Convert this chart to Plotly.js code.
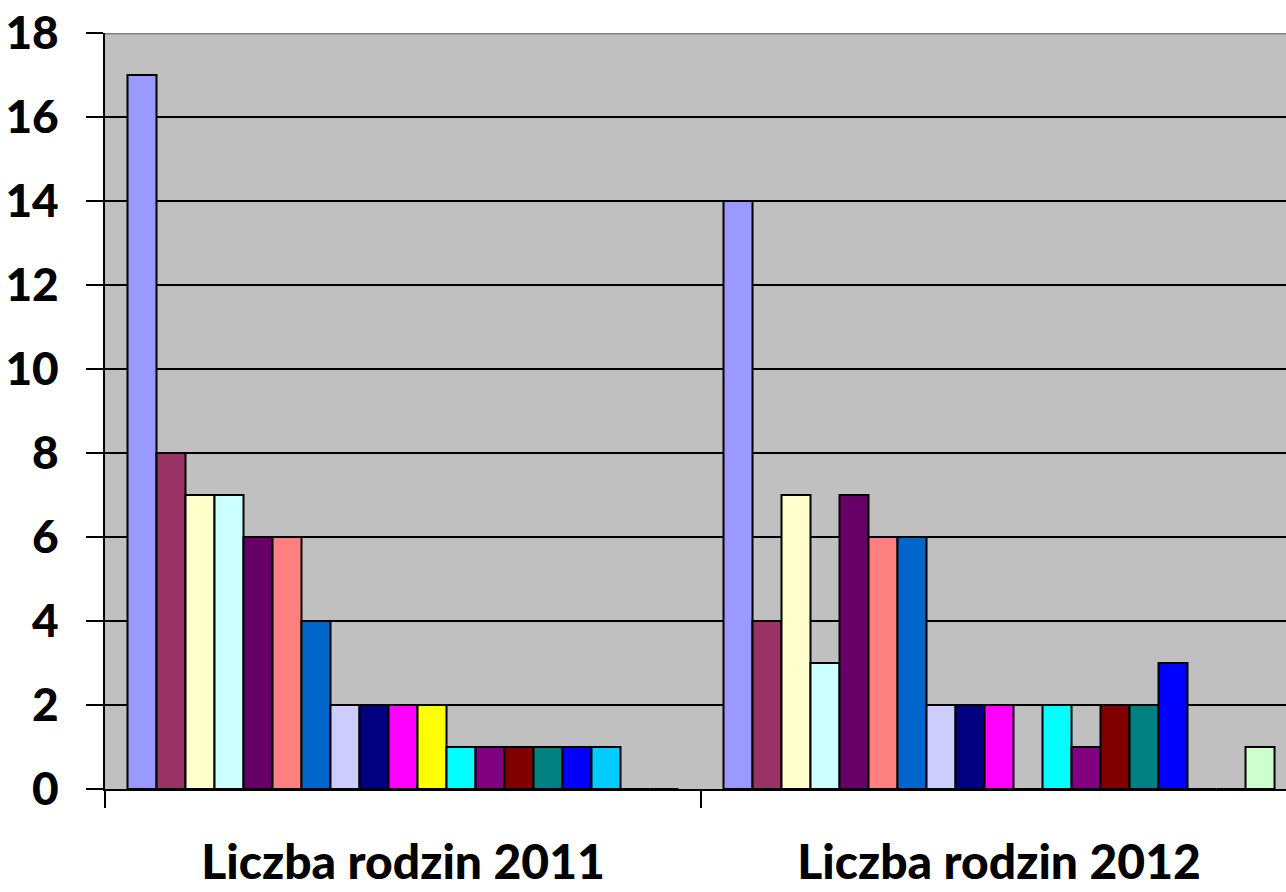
<!DOCTYPE html>
<html>
<head>
<meta charset="utf-8">
<script src="https://cdn.plot.ly/plotly-3.0.1.min.js"></script>
<style>html,body{margin:0;padding:0;background:#fff;}#chart{width:1286px;height:892px;}</style>
</head>
<body>
<div id="chart"></div>
<script>
const categories = ["Liczba rodzin 2011", "Liczba rodzin 2012"];
const seriesNames = ["Seria 1","Seria 2","Seria 3","Seria 4","Seria 5","Seria 6","Seria 7","Seria 8","Seria 9","Seria 10","Seria 11","Seria 12","Seria 13","Seria 14","Seria 15","Seria 16","Seria 17","Seria 18","Seria 19"];
const values2011 = [17, 8, 7, 7, 6, 6, 4, 2, 2, 2, 2, 1, 1, 1, 1, 1, 1, 0, 0];
const values2012 = [14, 4, 7, 3, 7, 6, 6, 2, 2, 2, 0, 2, 1, 2, 2, 3, 0, 0, 1];
const colors = ["#9999FF","#993366","#FFFFCC","#CCFFFF","#660066","#FF8080","#0066CC","#CCCCFF","#000080","#FF00FF","#FFFF00","#00FFFF","#800080","#800000","#008080","#0000FF","#00CCFF","#CCFFFF","#CCFFCC"];
const yTicks = [0, 2, 4, 6, 8, 10, 12, 14, 16, 18];

const traces = seriesNames.map((name, i) => ({
  type: "bar",
  name: name,
  x: categories,
  y: [values2011[i], values2012[i]],
  marker: {color: colors[i], line: {color: "#000000", width: 2}},
  hoverinfo: "x+y+name"
}));

const font = "Lato, 'Open Sans', sans-serif";
const layout = {
  width: 1286, height: 892,
  margin: {l: 105, r: 0, t: 33, b: 103, pad: 0},
  paper_bgcolor: "#FFFFFF",
  plot_bgcolor: "#C0C0C0",
  showlegend: false,
  barmode: "group",
  bargap: 0.0755,
  bargroupgap: 0,
  xaxis: {
    type: "category",
    range: [-0.5, 1.4815],
    tickson: "boundaries",
    ticks: "outside", ticklen: 17, tickwidth: 2, tickcolor: "#000",
    showline: true, linecolor: "#000", linewidth: 2,
    showgrid: false, zeroline: false,
    tickfont: {family: font, size: 48, color: "#000", weight: 900},
    ticklabelstandoff: 30,
    automargin: false, fixedrange: true
  },
  yaxis: {
    range: [0, 18],
    tickvals: yTicks,
    ticktext: yTicks.map(String),
    ticks: "outside", ticklen: 17, tickwidth: 2, tickcolor: "#000",
    showline: true, linecolor: "#000", linewidth: 2,
    showgrid: true, gridcolor: "#000", gridwidth: 2,
    zeroline: false,
    tickfont: {family: font, size: 46, color: "#000", weight: 900},
    ticklabelstandoff: 18,
    automargin: false, fixedrange: true
  },
  shapes: [{
    type: "line", xref: "paper", yref: "y",
    x0: 0, x1: 1, y0: 18, y1: 18,
    line: {color: "#808080", width: 3}
  }]
};

Plotly.newPlot("chart", traces, layout, {displayModeBar: false, staticPlot: true});
</script>
</body>
</html>
